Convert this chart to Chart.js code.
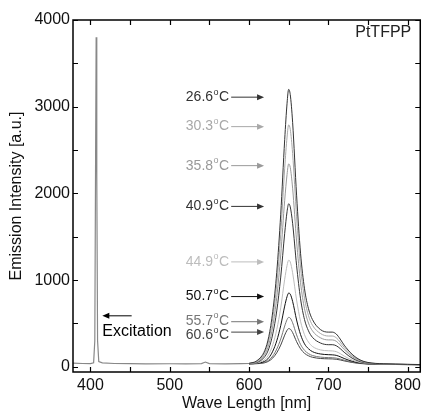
<!DOCTYPE html>
<html>
<head>
<meta charset="utf-8">
<script src="https://cdn.jsdelivr.net/npm/chart.js@4"></script>
<style>
  html, body { margin: 0; padding: 0; background: #fff; }
  #wrap { width: 425px; height: 414px; position: relative; }
</style>
</head>
<body>
<div id="wrap"><canvas id="spectrumChart"></canvas></div>
<script>
// Excitation line + shared baseline (378-600 nm)
const excWl = [378, 390, 400, 404, 405.5, 406.5, 407.2, 408, 409, 410.5, 415, 430, 450, 470, 500, 520, 540, 545, 550, 570, 590, 600];
const excVals = [42, 38, 36, 45, 300, 2400, 3800, 2200, 300, 60, 45, 38, 36, 34, 35, 33, 36, 55, 36, 34, 36, 38];

// Emission spectra (600-816 nm), one list per temperature
const emWl = [600, 610, 620, 625, 630, 635, 640, 645, 648, 650, 652, 655, 660, 665, 670, 675, 680, 690, 700, 705, 710, 715, 720, 730, 740, 750, 770, 800, 816];
const em266 = [40, 70, 190, 350, 640, 1090, 1760, 2620, 3040, 3200, 3140, 2820, 1980, 1310, 900, 670, 545, 430, 400, 400, 378, 320, 250, 145, 80, 50, 35, 28, 26];
const em303 = [38, 62, 170, 310, 560, 950, 1530, 2290, 2650, 2790, 2740, 2460, 1730, 1150, 790, 590, 480, 385, 355, 355, 335, 285, 225, 130, 75, 48, 34, 28, 26];
const em358 = [37, 55, 145, 260, 470, 800, 1290, 1920, 2220, 2340, 2300, 2060, 1450, 970, 670, 505, 415, 335, 310, 310, 295, 252, 200, 118, 68, 45, 33, 27, 25];
const em409 = [36, 50, 118, 210, 380, 645, 1035, 1540, 1790, 1880, 1845, 1655, 1170, 785, 545, 415, 340, 275, 255, 255, 243, 210, 168, 100, 60, 42, 32, 27, 25];
const em449 = [35, 44, 85, 145, 255, 430, 680, 1010, 1170, 1230, 1210, 1085, 770, 525, 370, 285, 235, 195, 185, 183, 175, 152, 124, 78, 50, 38, 31, 26, 25];
const em507 = [34, 40, 65, 105, 180, 300, 475, 700, 810, 850, 838, 755, 540, 372, 265, 208, 175, 148, 140, 138, 132, 116, 96, 64, 44, 35, 30, 26, 25];
const em557 = [34, 38, 52, 78, 125, 205, 320, 470, 545, 570, 562, 508, 368, 258, 190, 152, 130, 112, 106, 105, 100, 90, 76, 54, 40, 33, 29, 25, 24];
const em606 = [33, 36, 47, 66, 102, 162, 250, 365, 422, 440, 435, 395, 290, 208, 156, 127, 110, 96, 92, 91, 87, 79, 68, 50, 38, 32, 28, 25, 24];

const tempLabels = ['26.6', '30.3', '35.8', '40.9', '44.9', '50.7', '55.7', '60.6'];
const tempLabelY = [3110, 2770, 2320, 1850, 1210, 810, 520, 400];
const tempColors = ['#333333', '#a8a8a8', '#999999', '#333333', '#bdbdbd', '#111111', '#777777', '#444444'];
const emSeries = [em266, em303, em358, em409, em449, em507, em557, em606];

const xTickLabels = [400, 500, 600, 700, 800];
const xTickMarks = [400, 450, 500, 550, 600, 650, 700, 750, 800];
const yTickLabels = [0, 1000, 2000, 3000, 4000];
const yTickMarks = [0, 500, 1000, 1500, 2000, 2500, 3000, 3500, 4000];

const FONT = '"Liberation Sans", Arial, sans-serif';

function toPoints(xs, ys) {
    return xs.map((x, i) => ({ x: x, y: ys[i] }));
}

const datasets = [{
    label: 'Excitation',
    data: toPoints(excWl, excVals),
    borderColor: '#888888',
    borderWidth: 1.2,
    pointRadius: 0,
    tension: 0
}];
emSeries.forEach((vals, i) => {
    datasets.push({
        label: tempLabels[i] + ' °C',
        data: toPoints(emWl, vals),
        borderColor: tempColors[i],
        borderWidth: 1,
        pointRadius: 0,
        cubicInterpolationMode: 'monotone'
    });
});

// Frame, inward ticks and annotations
const decorPlugin = {
    id: 'decor',
    afterDatasetsDraw(chart) {
        const ctx = chart.ctx;
        const area = chart.chartArea;
        const xs = chart.scales.x;
        const ys = chart.scales.y;
        ctx.save();
        ctx.strokeStyle = '#000';
        ctx.lineWidth = 1.5;
        ctx.strokeRect(area.left, area.top, area.right - area.left, area.bottom - area.top);

        ctx.lineWidth = 1.2;
        ctx.beginPath();
        xTickMarks.forEach(v => {
            const px = Math.round(xs.getPixelForValue(v)) + 0.5;
            ctx.moveTo(px, area.bottom); ctx.lineTo(px, area.bottom - 5);
            ctx.moveTo(px, area.top); ctx.lineTo(px, area.top + 5);
        });
        yTickMarks.forEach(v => {
            const py = Math.round(ys.getPixelForValue(v)) + 0.5;
            ctx.moveTo(area.left, py); ctx.lineTo(area.left + 5, py);
            ctx.moveTo(area.right, py); ctx.lineTo(area.right - 5, py);
        });
        ctx.stroke();

        // temperature labels with arrows
        const textEnd = xs.getPixelForValue(575);
        const arrowStart = xs.getPixelForValue(577.5);
        const arrowEnd = xs.getPixelForValue(619);
        ctx.textBaseline = 'middle';
        tempLabels.forEach((t, i) => {
            let py = ys.getPixelForValue(tempLabelY[i]);
            const col = tempColors[i];
            ctx.fillStyle = col;
            ctx.strokeStyle = col;
            ctx.font = '14px ' + FONT;
            const wNum = ctx.measureText(t).width;
            const wC = ctx.measureText('C').width;
            ctx.font = '9px ' + FONT;
            const wO = ctx.measureText('o').width;
            let textY = py;
            if (t === '60.6') textY = py + 3;
            if (t === '55.7') textY = py - 1;
            let x0 = textEnd - (wNum + wO + wC + 1);
            ctx.font = '14px ' + FONT;
            ctx.textAlign = 'left';
            ctx.fillText(t, x0, textY);
            ctx.font = '9px ' + FONT;
            ctx.fillText('o', x0 + wNum + 0.5, textY - 5);
            ctx.font = '14px ' + FONT;
            ctx.fillText('C', x0 + wNum + wO + 1, textY);
            // arrow
            ctx.lineWidth = 1;
            ctx.beginPath();
            ctx.moveTo(arrowStart, py);
            ctx.lineTo(arrowEnd - 5, py);
            ctx.stroke();
            ctx.beginPath();
            ctx.moveTo(arrowEnd, py);
            ctx.lineTo(arrowEnd - 7, py - 3);
            ctx.lineTo(arrowEnd - 7, py + 3);
            ctx.closePath();
            ctx.fill();
        });

        // excitation label
        const exY = ys.getPixelForValue(588);
        const exTip = xs.getPixelForValue(415);
        const exTail = xs.getPixelForValue(452);
        ctx.strokeStyle = '#000';
        ctx.fillStyle = '#000';
        ctx.beginPath();
        ctx.moveTo(exTip + 5, exY);
        ctx.lineTo(exTail, exY);
        ctx.stroke();
        ctx.beginPath();
        ctx.moveTo(exTip, exY);
        ctx.lineTo(exTip + 7, exY - 3);
        ctx.lineTo(exTip + 7, exY + 3);
        ctx.closePath();
        ctx.fill();
        ctx.font = '16px ' + FONT;
        ctx.textAlign = 'left';
        ctx.fillText('Excitation', exTip, ys.getPixelForValue(403));

        // sample name
        ctx.font = '16px ' + FONT;
        ctx.textAlign = 'right';
        ctx.fillStyle = '#222';
        ctx.fillText('PtTFPP', area.right - 9, area.top + 13);
        ctx.restore();
    }
};

new Chart(document.getElementById('spectrumChart'), {
    type: 'line',
    data: { datasets: datasets },
    options: {
        responsive: true,
        maintainAspectRatio: false,
        animation: false,
        layout: { padding: { top: 20, right: 2, left: 0, bottom: 0 } },
        plugins: {
            legend: { display: false },
            tooltip: { enabled: false }
        },
        scales: {
            x: {
                type: 'linear',
                min: 378,
                max: 816,
                grid: { display: false, drawTicks: false },
                border: { display: false },
                afterBuildTicks: s => { s.ticks = xTickLabels.map(v => ({ value: v })); },
                afterFit: s => { s.height = 42; },
                ticks: {
                    padding: 4,
                    maxRotation: 0,
                    color: '#111',
                    font: { family: FONT, size: 16 },
                    callback: v => String(v)
                },
                title: {
                    display: true,
                    text: 'Wave Length [nm]',
                    color: '#111',
                    font: { family: FONT, size: 16 },
                    padding: { top: 0, bottom: 1 }
                }
            },
            y: {
                type: 'linear',
                min: -60,
                max: 4000,
                grid: { display: false, drawTicks: false },
                border: { display: false },
                afterBuildTicks: s => { s.ticks = yTickLabels.map(v => ({ value: v })); },
                afterFit: s => { s.width = 73; },
                ticks: {
                    padding: 3,
                    color: '#111',
                    font: { family: FONT, size: 16 },
                    callback: v => String(v)
                },
                title: {
                    display: true,
                    text: 'Emission Intensity [a.u.]',
                    color: '#111',
                    font: { family: FONT, size: 16 },
                    padding: { top: 7, bottom: 0 }
                }
            }
        }
    },
    plugins: [decorPlugin]
});
</script>
</body>
</html>
